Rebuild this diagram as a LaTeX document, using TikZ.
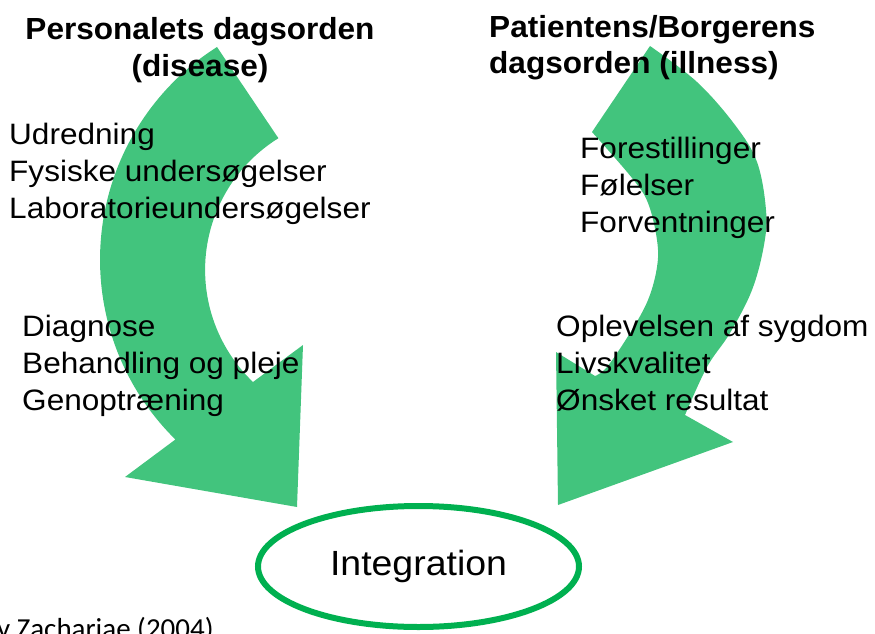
\documentclass[tikz,border=0pt]{standalone}
\usepackage{fontspec}
\setmainfont{Liberation Sans}[FakeStretch=1.07, BoldFeatures={FakeStretch=1.035}]
\newfontfamily\citefont{Carlito}
\usepackage{tikz}
\usetikzlibrary{shapes.geometric}

\definecolor{arrowgreen}{RGB}{66,196,125}
\definecolor{ringgreen}{RGB}{0,176,80}

\begin{document}
\begin{tikzpicture}[
    x=1pt, y=-1pt,
    bigarrow/.style={fill=arrowgreen},
    listtext/.style={font=\fontsize{29.5}{37}\selectfont, align=left, inner sep=0, anchor=base west},
    headtext/.style={font=\fontsize{30.5}{36.5}\selectfont\bfseries, inner sep=0},
    integring/.style={draw=ringgreen, line width=6, ellipse, minimum width=321, minimum height=121, inner sep=0}
]
\useasboundingbox (0,0) rectangle (875,634);

% Left arrow (disease)
\fill[bigarrow] (217,47) arc[start angle=-122.4, end angle=-225.5, radius=252]
    -- (125,477) -- (297,507) -- (303,345) -- (253,382)
    arc[start angle=-226.3, end angle=-121.8, radius=155] -- cycle;

% Right arrow (illness)
\fill[bigarrow] plot[smooth, tension=0.6] coordinates {(650,46) (697,82) (735,125) (757,162) (766,210) (764,245) (752,290) (730,333) (707,367) (685,415)}
    -- (733,442) -- (558,505) -- (556,352) -- (595,376)
    -- plot[smooth, tension=0.6] coordinates {(595,376) (607,367) (630,333) (648,300) (657,267) (657,240) (648,203) (632,178) (592,132)}
    -- cycle;

% Headings (base = last line)
\node[headtext, align=center, anchor=base] (disease) at (200,76) {Personalets dagsorden\\(disease)};
\node[headtext, align=left, anchor=base west] (illness) at (489,74) {Patientens/Borgerens\\dagsorden (illness)};

% Lists
\node[listtext] (exam) at (9,218) {Udredning\\Fysiske undersøgelser\\Laboratorieundersøgelser};
\node[listtext] (treat) at (22,410) {Diagnose\\Behandling og pleje\\Genoptræning};
\node[listtext] (ideas) at (580,232) {Forestillinger\\Følelser\\Forventninger};
\node[listtext] (life) at (556,410) {Oplevelsen af sygdom\\Livskvalitet\\Ønsket resultat};

% Integration
\node[integring, font=\fontsize{35}{40}\selectfont] (integ) at (418.5,566.5) {Integration};

% Source
\node[inner sep=0, anchor=base west, font=\citefont\fontsize{29}{31}\selectfont] (source) at (-3,638) {y Zachariae (2004)};
\end{tikzpicture}
\end{document}
